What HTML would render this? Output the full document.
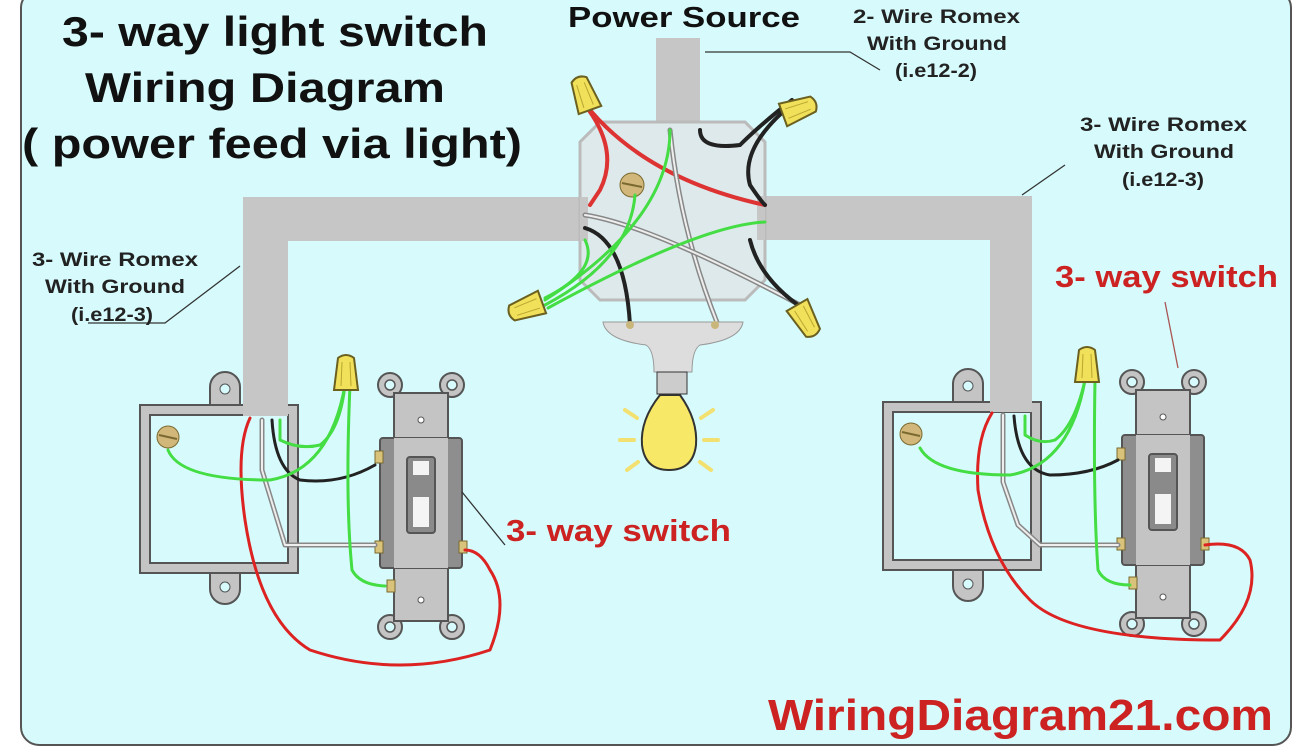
<!DOCTYPE html>
<html><head><meta charset="utf-8"><style>
html,body{margin:0;padding:0;background:#fff}
svg{display:block}
text{font-family:"Liberation Sans",sans-serif}
</style></head><body>
<svg width="1296" height="752" viewBox="0 0 1296 752" xmlns="http://www.w3.org/2000/svg">
<defs>
<g id="sw">
 <g fill="#c4c4c4" stroke="#555" stroke-width="2">
  <circle cx="-31" cy="10" r="12"/><circle cx="31" cy="10" r="12"/>
  <circle cx="-31" cy="252" r="12"/><circle cx="31" cy="252" r="12"/>
  <rect x="-27" y="18" width="54" height="228"/>
  <rect x="-41" y="63" width="82" height="130" rx="3" fill="#8e8e8e"/>
  <rect x="-27" y="63" width="54" height="130" fill="#c4c4c4" stroke="none"/>
  <rect x="-14" y="82" width="28" height="76" rx="3" fill="#8a8a8a"/>
 </g>
 <g fill="#d7fbfc" stroke="#555" stroke-width="1.5">
  <circle cx="-31" cy="10" r="5"/><circle cx="31" cy="10" r="5"/>
  <circle cx="-31" cy="252" r="5"/><circle cx="31" cy="252" r="5"/>
 </g>
 <circle cx="0" cy="45" r="3" fill="#fff" stroke="#555"/><circle cx="0" cy="225" r="3" fill="#fff" stroke="#555"/>
 <rect x="-8" y="86" width="16" height="14" fill="#f4f4f4"/>
 <rect x="-8" y="122" width="16" height="30" fill="#f4f4f4"/>
 <g fill="#d9c27a" stroke="#7a6a30">
  <rect x="-46" y="76" width="8" height="12"/><rect x="-46" y="166" width="8" height="12"/>
  <rect x="-34" y="205" width="8" height="12"/><rect x="38" y="166" width="8" height="12"/>
 </g>
</g>
<g id="bx">
 <g fill="#c4c4c4" stroke="#555" stroke-width="2">
  <path d="M70 30 v-18 a15 15 0 0 1 30 0 v18z"/>
  <path d="M70 196 v18 a15 15 0 0 0 30 0 v-18z"/>
  <rect x="0" y="30" width="158" height="168" />
 </g>
 <rect x="10" y="40" width="138" height="148" fill="#d7fbfc" stroke="#555" stroke-width="2"/>
 <circle cx="85" cy="14" r="5" fill="#d7fbfc" stroke="#555"/>
 <circle cx="85" cy="212" r="5" fill="#d7fbfc" stroke="#555"/>
 <circle cx="28" cy="62" r="11" fill="#d2b77a" stroke="#7a6a30"/>
 <line x1="19" y1="60" x2="37" y2="64" stroke="#7a6a30" stroke-width="2"/>
</g>
<g id="nut">
 <path d="M-12 0 L-8 -32 Q0 -38 8 -32 L12 0 Z" fill="#f0e05a" stroke="#6b6020" stroke-width="2"/>
 <line x1="-4" y1="-28" x2="-5" y2="-4" stroke="#b9a630"/><line x1="4" y1="-28" x2="5" y2="-4" stroke="#b9a630"/>
</g>
</defs>
<rect x="0" y="0" width="1296" height="752" fill="#fff"/>
<rect x="21" y="-10" width="1270" height="755" rx="18" fill="#d7fbfc" stroke="#555" stroke-width="2"/>

<g fill="#c6c6c6">
 <rect x="243" y="197" width="340" height="44"/>
 <rect x="243" y="197" width="45" height="210"/>
 <rect x="762" y="196" width="270" height="44"/>
 <rect x="990" y="196" width="42" height="210"/>
 <rect x="656" y="38" width="44" height="90"/>
</g>

<path d="M600 122 H745 L765 142 V280 L745 300 H600 L580 280 V142 Z" fill="#dde9ea" stroke="#bbb" stroke-width="3"/>
<rect x="580" y="197" width="8" height="44" fill="#c6c6c6"/>
<rect x="757" y="196" width="8" height="44" fill="#c6c6c6"/>
<circle cx="632" cy="185" r="12" fill="#d2b77a" stroke="#7a6a30"/>
<line x1="622" y1="183" x2="642" y2="187" stroke="#7a6a30" stroke-width="2"/>

<g fill="none" stroke-linecap="round">
 <path d="M585 105 Q620 150 600 190 Q590 205 590 205" stroke="#d33" stroke-width="4"/>
 <path d="M590 110 Q650 180 765 205" stroke="#d33" stroke-width="4"/>
 <path d="M792 100 Q760 125 740 145 Q700 150 700 130" stroke="#222" stroke-width="4"/>
 <path d="M785 110 Q740 150 750 185 Q760 200 765 205" stroke="#222" stroke-width="4"/>
 <path d="M670 130 Q680 230 718 325" stroke="#888" stroke-width="5"/>
 <path d="M670 130 Q680 230 718 325" stroke="#eee" stroke-width="2"/>
 <path d="M585 215 Q650 225 800 305" stroke="#888" stroke-width="5"/>
 <path d="M585 215 Q650 225 800 305" stroke="#eee" stroke-width="2"/>
 <path d="M750 240 Q760 280 805 310" stroke="#222" stroke-width="4"/>
 <path d="M585 228 Q625 240 630 325" stroke="#222" stroke-width="4"/>
 <path d="M670 130 Q670 220 545 300" stroke="#4d4" stroke-width="3"/>
 <path d="M635 195 Q630 260 545 305" stroke="#4d4" stroke-width="3"/>
 <path d="M765 222 Q700 225 548 308" stroke="#4d4" stroke-width="3"/>
 <path d="M585 240 Q600 270 545 298" stroke="#4d4" stroke-width="3"/>
</g>
<use href="#nut" transform="translate(590 110) rotate(-20)"/>
<use href="#nut" transform="translate(783 115) rotate(70)"/>
<use href="#nut" transform="translate(542 302) rotate(-110)"/>
<use href="#nut" transform="translate(797 305) rotate(150)"/>

<path d="M603 322 H743 Q740 340 700 345 Q692 350 692 372 H654 Q654 350 646 345 Q606 340 603 322 Z" fill="#ddd" stroke="#999"/>
<circle cx="630" cy="325" r="4" fill="#c9b67a"/><circle cx="715" cy="325" r="4" fill="#c9b67a"/>
<rect x="657" y="372" width="30" height="22" fill="#ccc" stroke="#333"/>
<path d="M660 395 Q640 420 642 445 Q645 470 669 470 Q693 470 696 445 Q698 420 680 395 Z" fill="#f7e967" stroke="#333" stroke-width="2"/>
<g stroke="#f2e070" stroke-width="4" stroke-linecap="round">
 <line x1="625" y1="410" x2="637" y2="418"/><line x1="620" y1="440" x2="634" y2="440"/><line x1="627" y1="470" x2="638" y2="462"/>
 <line x1="713" y1="410" x2="701" y2="418"/><line x1="718" y1="440" x2="704" y2="440"/><line x1="711" y1="470" x2="700" y2="462"/>
</g>

<use href="#bx" transform="translate(140 375)"/>
<rect x="243" y="376" width="45" height="40" fill="#c6c6c6"/>
<use href="#sw" transform="translate(421 375)"/>
<g fill="none" stroke-linecap="round" stroke-linejoin="round">
 <path d="M250 418 Q235 450 245 520 Q260 620 310 650 Q400 680 490 650 Q510 600 490 570 Q480 550 465 550" stroke="#d22" stroke-width="3"/>
 <path d="M262 420 V470 L285 545 H375" stroke="#888" stroke-width="5"/>
 <path d="M262 420 V470 L285 545 H375" stroke="#eee" stroke-width="2"/>
 <path d="M272 420 Q275 470 300 480 Q340 485 375 465" stroke="#222" stroke-width="3"/>
 <path d="M168 450 Q180 480 270 480 Q330 470 345 385" stroke="#4d4" stroke-width="3"/>
 <path d="M280 420 V440 Q300 450 320 445 Q340 430 345 385" stroke="#4d4" stroke-width="3"/>
 <path d="M350 385 Q345 500 352 570 Q360 585 385 586" stroke="#4d4" stroke-width="3"/>
</g>
<use href="#nut" transform="translate(346 390)"/>

<use href="#bx" transform="translate(883 372)"/>
<rect x="990" y="372" width="42" height="40" fill="#c6c6c6"/>
<use href="#sw" transform="translate(1163 372)"/>
<g fill="none" stroke-linecap="round" stroke-linejoin="round">
 <path d="M992 413 Q975 440 978 490 Q990 560 1030 600 Q1070 640 1220 640 Q1260 600 1250 560 Q1240 540 1205 545" stroke="#d22" stroke-width="3"/>
 <path d="M1003 415 V482 L1018 525 L1040 545 H1118" stroke="#888" stroke-width="5"/>
 <path d="M1003 415 V482 L1018 525 L1040 545 H1118" stroke="#eee" stroke-width="2"/>
 <path d="M1014 416 Q1018 470 1050 475 Q1090 475 1118 460" stroke="#222" stroke-width="3"/>
 <path d="M920 448 Q935 475 1010 475 Q1070 465 1085 380" stroke="#4d4" stroke-width="3"/>
 <path d="M1025 416 V435 Q1040 445 1055 440 Q1075 425 1085 380" stroke="#4d4" stroke-width="3"/>
 <path d="M1095 380 Q1093 500 1098 570 Q1105 585 1130 585" stroke="#4d4" stroke-width="3"/>
</g>
<use href="#nut" transform="translate(1087 382)"/>

<g fill="none" stroke="#333" stroke-width="1.3">
 <path d="M705 52 H850 L880 70"/>
 <path d="M1022 195 L1065 165"/>
 <path d="M240 266 L165 323 H88"/>
 <path d="M462 492 L505 545"/>
 <path d="M1165 302 L1178 368" stroke="#a55"/>
</g>

<g font-weight="bold" fill="#111">
 <text x="62" y="46" font-size="42" textLength="426" lengthAdjust="spacingAndGlyphs">3- way light switch</text>
 <text x="85" y="102" font-size="42" textLength="360" lengthAdjust="spacingAndGlyphs">Wiring Diagram</text>
 <text x="22" y="158" font-size="42" textLength="500" lengthAdjust="spacingAndGlyphs">( power feed via light)</text>
 <text x="568" y="27" font-size="29" textLength="232" lengthAdjust="spacingAndGlyphs">Power Source</text>
</g>
<g font-weight="bold" fill="#222" font-size="19">
 <text x="853" y="23" textLength="167" lengthAdjust="spacingAndGlyphs">2- Wire Romex</text>
 <text x="867" y="50" textLength="140" lengthAdjust="spacingAndGlyphs">With Ground</text>
 <text x="895" y="77" textLength="82" lengthAdjust="spacingAndGlyphs">(i.e12-2)</text>
 <text x="1080" y="131" textLength="167" lengthAdjust="spacingAndGlyphs">3- Wire Romex</text>
 <text x="1094" y="158" textLength="140" lengthAdjust="spacingAndGlyphs">With Ground</text>
 <text x="1122" y="186" textLength="82" lengthAdjust="spacingAndGlyphs">(i.e12-3)</text>
 <text x="32" y="266" textLength="166" lengthAdjust="spacingAndGlyphs">3- Wire Romex</text>
 <text x="45" y="293" textLength="140" lengthAdjust="spacingAndGlyphs">With Ground</text>
 <text x="71" y="321" textLength="82" lengthAdjust="spacingAndGlyphs">(i.e12-3)</text>
</g>
<g font-weight="bold" fill="#cc2222">
 <text x="506" y="541" font-size="31" textLength="225" lengthAdjust="spacingAndGlyphs">3- way switch</text>
 <text x="1055" y="287" font-size="31" textLength="223" lengthAdjust="spacingAndGlyphs">3- way switch</text>
 <text x="768" y="730" font-size="44" textLength="505" lengthAdjust="spacingAndGlyphs">WiringDiagram21.com</text>
</g>
</svg>
</body></html>
